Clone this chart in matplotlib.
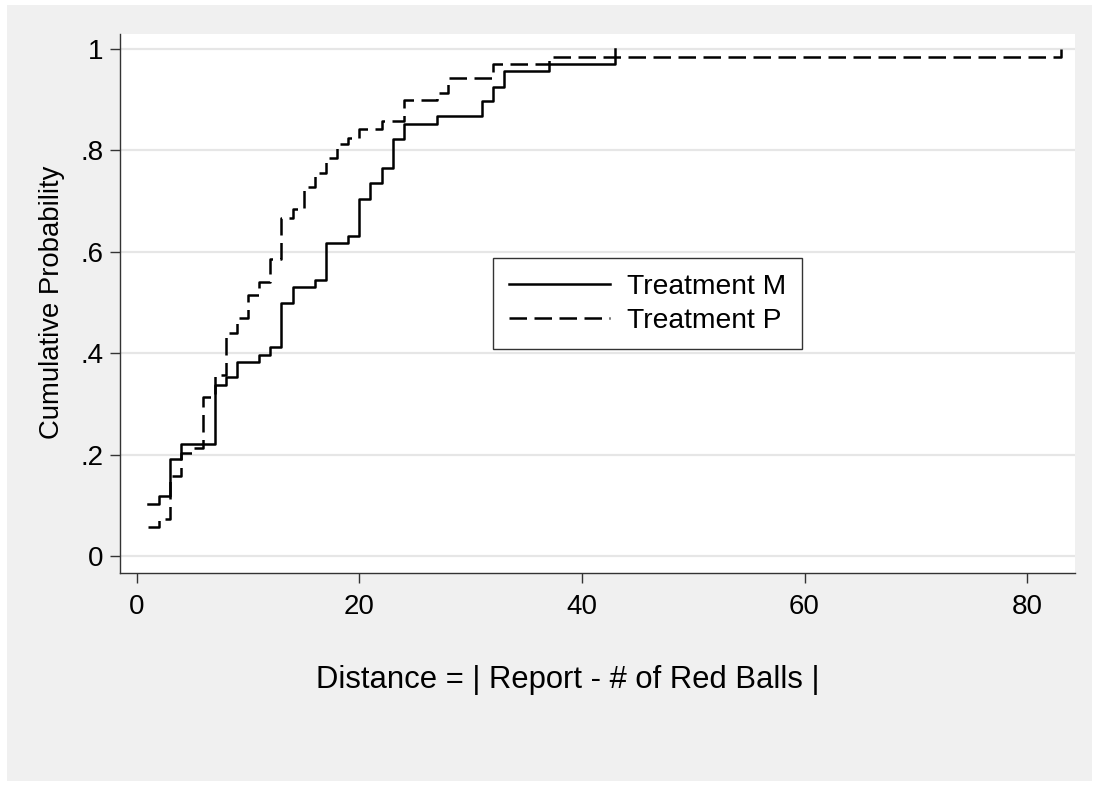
import matplotlib.pyplot as plt
from matplotlib.patches import Rectangle

plt.rcParams['font.family'] = ['Liberation Sans', 'DejaVu Sans']

# empirical CDF steps: distance value and cumulative share at that value
dist_m = [1, 2, 3, 4, 7, 8, 9, 11, 12, 13, 14, 16, 17, 19, 20, 21, 22, 23,
          24, 27, 31, 32, 33, 37, 43]
cdf_m = [0.103, 0.118, 0.191, 0.221, 0.338, 0.353, 0.382, 0.397, 0.412,
         0.499, 0.530, 0.544, 0.617, 0.632, 0.705, 0.735, 0.765, 0.823,
         0.853, 0.868, 0.898, 0.926, 0.956, 0.971, 1.0]

dist_p = [1, 2, 3, 4, 5, 6, 7, 8, 9, 10, 11, 12, 13, 14, 15, 16, 17, 18,
          19, 20, 22, 24, 27, 28, 32, 37, 83]
cdf_p = [0.058, 0.072, 0.157, 0.203, 0.213, 0.314, 0.356, 0.440, 0.470,
         0.514, 0.541, 0.585, 0.667, 0.684, 0.727, 0.756, 0.785, 0.813,
         0.825, 0.842, 0.858, 0.899, 0.914, 0.942, 0.970, 0.985, 1.0]

xticks = [0, 20, 40, 60, 80]
yticks = [0, 0.2, 0.4, 0.6, 0.8, 1.0]
ytick_labels = ['0', '.2', '.4', '.6', '.8', '1']

fig = plt.figure(figsize=(10.99, 7.86), dpi=100, facecolor='white')
fig.patches.append(Rectangle((0.006, 0.006), 0.988, 0.988, transform=fig.transFigure,
                             facecolor='#f0f0f0', edgecolor='none', zorder=-10))

ax = fig.add_axes([120 / 1099, 213 / 786, 955 / 1099, 539 / 786])
ax.set_facecolor('white')

ax.step(dist_m, cdf_m, where='post', color='black', lw=1.8, label='Treatment M')
ax.step(dist_p, cdf_p, where='post', color='black', lw=1.8,
        linestyle=(0, (7, 3)), label='Treatment P')

ax.set_xlim(-1.5, 84.3)
ax.set_ylim(-0.0336, 1.0296)
ax.set_xticks(xticks)
ax.set_yticks(yticks)
ax.set_yticklabels(ytick_labels)
ax.tick_params(axis='both', labelsize=20, length=7, width=1, color='#333333')
ax.tick_params(axis='x', pad=8)
ax.tick_params(axis='y', pad=5)

ax.grid(axis='y', color='#e6e6e6', lw=1.6)
ax.set_axisbelow(True)
for side in ['top', 'right']:
    ax.spines[side].set_visible(False)
for side in ['left', 'bottom']:
    ax.spines[side].set_color('#333333')
    ax.spines[side].set_linewidth(1)

fig.text(568 / 1099, 1 - 680 / 786, 'Distance = | Report - # of Red Balls |',
         fontsize=22.3, ha='center', va='center')
fig.text(52 / 1099, 1 - 302 / 786, 'Cumulative Probability', fontsize=19.8,
         rotation=90, ha='center', va='center')

leg = ax.legend(loc='upper left', bbox_to_anchor=((493 - 120) / 955, (573 - 258) / 539),
                borderaxespad=0, fontsize=20.3, frameon=True, fancybox=False,
                handlelength=3.6, handletextpad=0.6, borderpad=0.55,
                labelspacing=0.3)
leg.get_frame().set_edgecolor('black')
leg.get_frame().set_linewidth(1)

fig.savefig('out.png', dpi=100, facecolor=fig.get_facecolor())
